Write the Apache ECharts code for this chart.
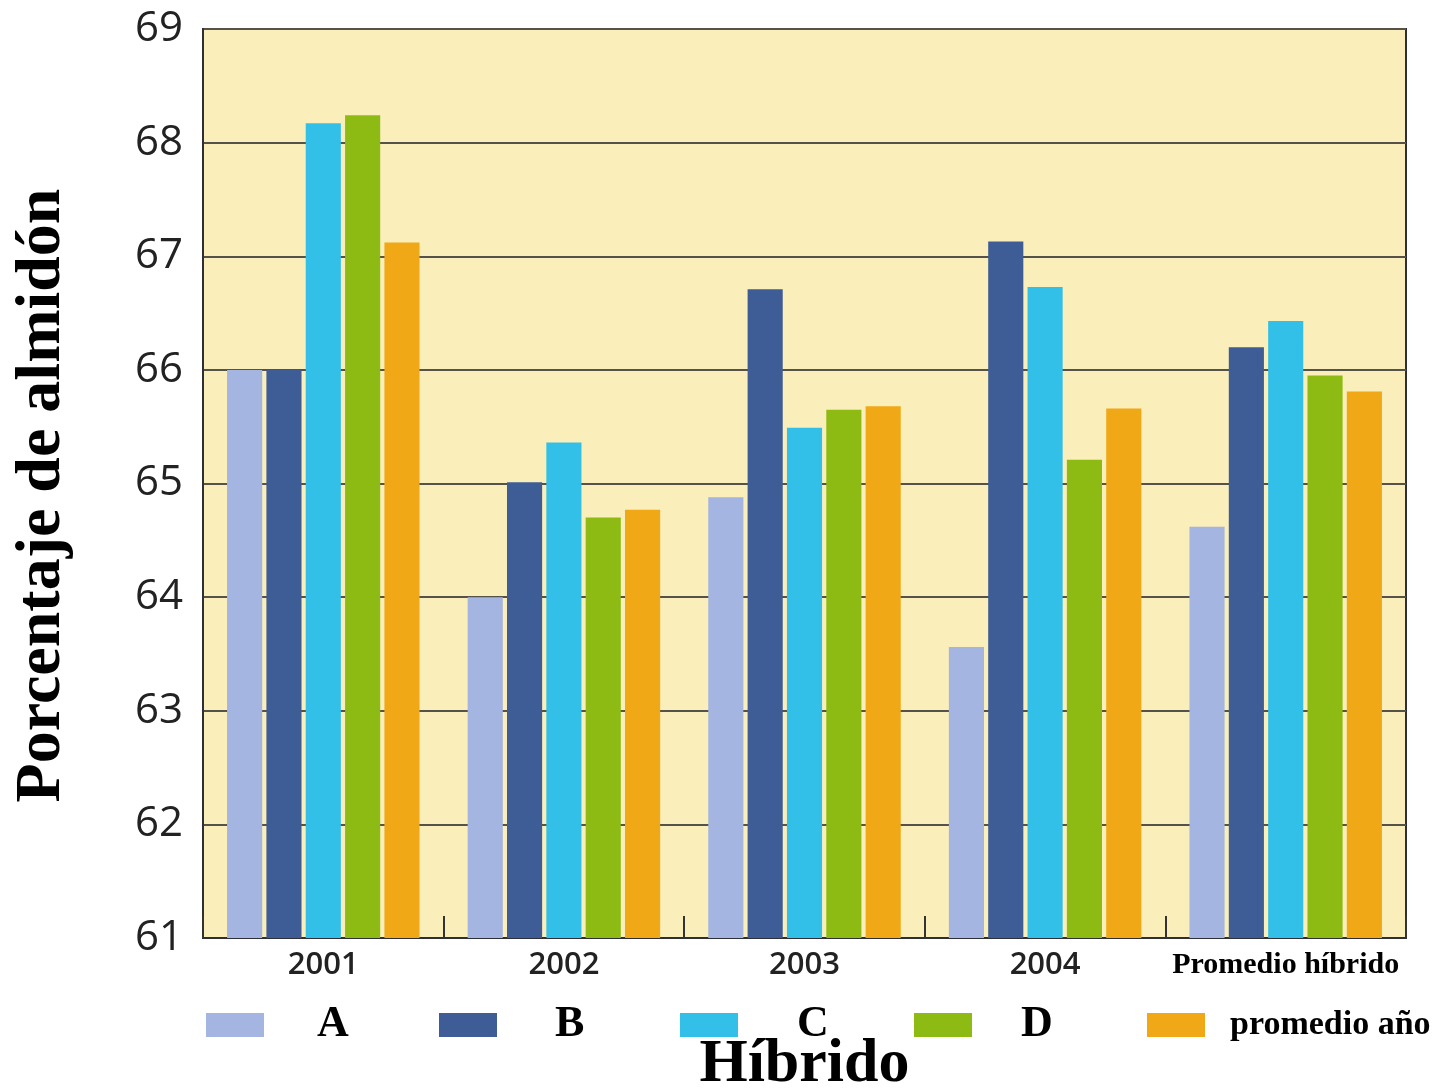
<!DOCTYPE html>
<html>
<head>
<meta charset="utf-8">
<script src="https://cdn.jsdelivr.net/npm/echarts@6/dist/echarts.min.js"></script>
<style>
  html, body { margin: 0; padding: 0; background: #ffffff; }
  #chart { width: 1434px; height: 1090px; }
</style>
</head>
<body>
<div id="chart"></div>
<script>
// Starch percentage by year and hybrid
const categories = ['2001', '2002', '2003', '2004', 'Promedio híbrido'];
const hybridA = [66.0, 64.0, 64.88, 63.56, 64.62];
const hybridB = [66.0, 65.01, 66.71, 67.13, 66.2];
const hybridC = [68.17, 65.36, 65.49, 66.73, 66.43];
const hybridD = [68.24, 64.7, 65.65, 65.21, 65.95];
const promedioAnio = [67.12, 64.77, 65.68, 65.66, 65.81];
const seriesNames = ['A', 'B', 'C', 'D', 'promedio año'];
const yTicks = { min: 61, max: 69, step: 1 };

const colors = ['#A3B5E0', '#3E5C95', '#33C0E8', '#8DBB14', '#F0A816'];
const seriesValues = [hybridA, hybridB, hybridC, hybridD, promedioAnio];

const serif = '"Liberation Serif", "Times New Roman", serif';

// one legend block per entry so each swatch sits at its own spot
const legendSpots = [
  { left: 201, pad: 48, size: 44 },
  { left: 434, pad: 53, size: 44 },
  { left: 675, pad: 54, size: 44 },
  { left: 909, pad: 44, size: 44 },
  { left: 1142, pad: 20, size: 34 }
];

const legends = seriesNames.map((name, i) => ({
  data: [name],
  left: legendSpots[i].left,
  top: 998,
  orient: 'horizontal',
  itemWidth: 58,
  itemHeight: 24,
  selectedMode: false,
  icon: 'rect',
  textStyle: {
    fontFamily: serif,
    fontWeight: 'bold',
    fontSize: legendSpots[i].size,
    lineHeight: 44,
    color: '#000',
    padding: [0, 0, 0, legendSpots[i].pad]
  }
}));

const chart = echarts.init(document.getElementById('chart'));
chart.setOption({
  backgroundColor: '#ffffff',
  animation: false,
  color: colors,
  legend: legends,
  grid: {
    left: 203, right: 28, top: 29, bottom: 152,
    outerBoundsMode: 'none',
    containLabel: false,
    show: true,
    backgroundColor: '#FAEEBB',
    borderColor: '#2e2e36',
    borderWidth: 2
  },
  xAxis: {
    type: 'category',
    data: categories,
    name: 'Híbrido',
    nameLocation: 'middle',
    nameGap: 96,
    nameTextStyle: {
      fontFamily: serif, fontWeight: 'bold', fontSize: 62, color: '#000'
    },
    axisLine: { show: true, lineStyle: { color: '#2e2e36', width: 2 } },
    axisTick: {
      show: true, inside: true, length: 22, interval: 0,
      lineStyle: { color: '#333', width: 2 }
    },
    axisLabel: {
      interval: 0,
      margin: 12,
      fontFamily: '"Open Sans", sans-serif',
      fontWeight: 600,
      fontSize: 31,
      color: '#222',
      formatter: v => v === 'Promedio híbrido' ? '{p|' + v + '}' : v,
      rich: {
        p: { fontFamily: serif, fontWeight: 'bold', fontSize: 30, color: '#000' }
      }
    }
  },
  yAxis: {
    type: 'value',
    min: yTicks.min,
    max: yTicks.max,
    interval: yTicks.step,
    name: 'Porcentaje de almidón',
    nameLocation: 'middle',
    nameRotate: 90,
    nameGap: 129,
    nameTextStyle: {
      fontFamily: serif, fontWeight: 'bold', fontSize: 64, color: '#000',
      padding: [0, 24, 0, 0]
    },
    axisLine: { show: true, lineStyle: { color: '#2e2e36', width: 2 } },
    axisTick: { show: false },
    axisLabel: {
      margin: 20,
      fontFamily: '"Open Sans", sans-serif',
      fontSize: 42,
      color: '#222'
    },
    splitLine: { show: true, lineStyle: { color: '#55524a', width: 2 } }
  },
  series: seriesNames.map((name, i) => ({
    name: name,
    type: 'bar',
    data: seriesValues[i],
    barGap: '12%',
    barCategoryGap: '20%',
    itemStyle: { color: colors[i] }
  }))
});
</script>
</body>
</html>
